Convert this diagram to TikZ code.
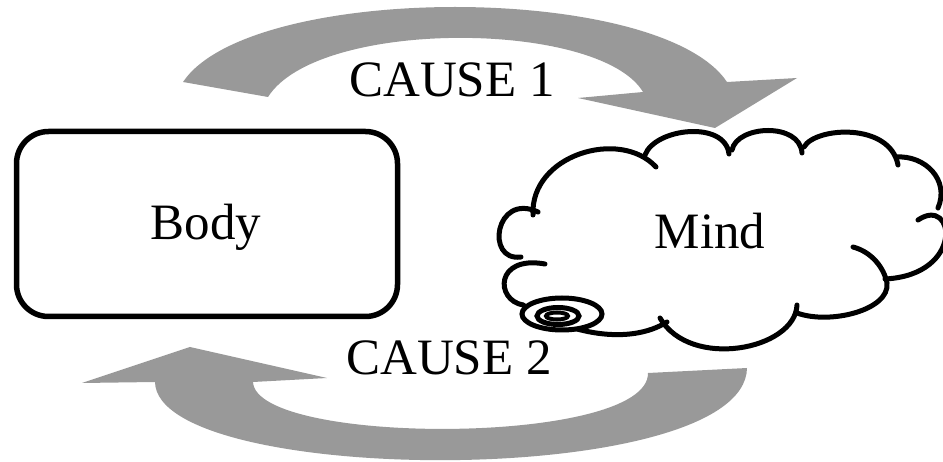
\documentclass[tikz,border=0pt]{standalone}
\usepackage{fontspec}
\setmainfont{Liberation Serif}
\definecolor{arrowgray}{RGB}{153,153,153}
\begin{document}
\begin{tikzpicture}[x=1pt,y=-1pt,
  band/.style={fill=arrowgray,draw=none},
  bodybox/.style={draw,line width=5.5pt,rounded corners=32pt,minimum width=381pt,minimum height=185pt,inner sep=0pt},
  cloudline/.style={line width=5pt,line cap=round},
  spiral/.style={line width=5pt,fill=white},
  lbl/.style={font=\fontsize{51}{60}\selectfont,inner sep=0pt,anchor=base}]
\useasboundingbox (0,0) rectangle (943,462);
\clip (0,0) rectangle (943,462);
% gray curved arrows
\path[band] (183,82) .. controls (250,-18) and (660,-18) .. (727,82) -- (797,78) -- (715,128) -- (578,98) -- (643,92)
  .. controls (600,20) and (318,18) .. (268,97) -- cycle;
\path[band] (648,373) -- (747,368) .. controls (745,490) and (157,487) .. (155,382) -- (82,383) -- (190,347) -- (327,378) -- (253,382)
  .. controls (256,446) and (649,446) .. (648,373) -- cycle;
% Body box
\node[bodybox] (body) at (207,224) {};
% Mind cloud
\draw[cloudline] (523,305) .. controls (495,300) and (495,255) .. (545,264);
\draw[cloudline] (521,257) .. controls (485,262) and (495,192) .. (538,212);
\draw[cloudline] (533,215) .. controls (530,155) and (620,128) .. (656,167);
\draw[cloudline] (645,155) .. controls (655,128) and (725,120) .. (729,154);
\draw[cloudline] (732,150) .. controls (737,125) and (800,122) .. (802,153);
\draw[cloudline] (804,147) .. controls (815,127) and (890,122) .. (898,165);
\draw[cloudline] (896,157) .. controls (925,155) and (950,180) .. (938,208);
\draw[cloudline] (918,220) .. controls (955,195) and (965,275) .. (885,279);
\draw[cloudline] (853,247) .. controls (872,252) and (884,268) .. (887,283) .. controls (890,310) and (830,325) .. (797,313);
\draw[cloudline] (797,305) .. controls (795,350) and (690,370) .. (660,318);
\draw[cloudline] (667,322) .. controls (630,345) and (570,335) .. (523,305);
\draw[spiral] (562,314) ellipse [x radius=40pt, y radius=16pt];
\draw[spiral] (558,316) ellipse [x radius=21pt, y radius=8.5pt];
\draw[line width=4pt] (557,316) ellipse [x radius=11pt, y radius=3.5pt];
% labels
\node[lbl] (bodytext) at (206,240) {Body};
\node[lbl] (mind) at (710,249) {Mind};
\node[lbl] (cause1) at (452,97) {CAUSE 1};
\node[lbl] (cause2) at (449,375) {CAUSE 2};
\end{tikzpicture}
\end{document}
